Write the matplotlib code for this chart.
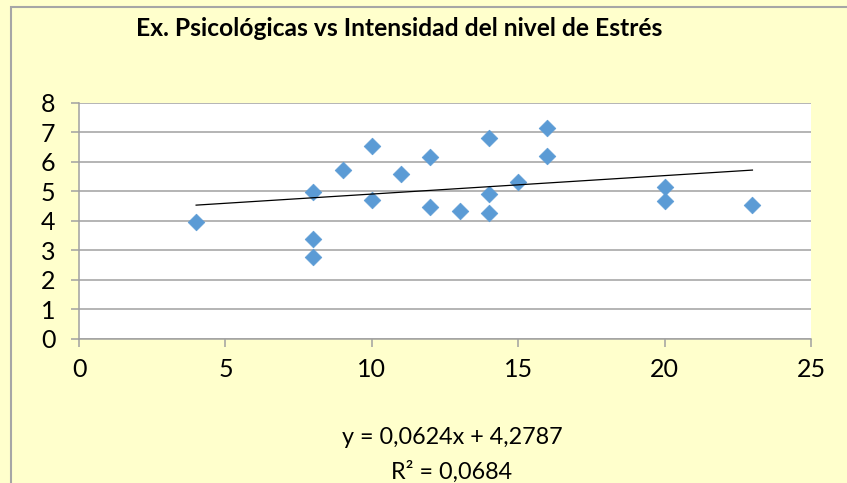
import matplotlib
matplotlib.use("Agg")
import matplotlib.pyplot as plt
from matplotlib.patches import Rectangle

# Data
x_vals = [4, 8, 8, 8, 9, 10, 10, 11, 12, 12, 13, 14, 14, 14, 15, 16, 16, 20, 20, 23]
y_vals = [3.97, 4.96, 3.37, 2.79, 5.72, 6.53, 4.70, 5.57, 6.14, 4.47, 4.32, 6.80,
          4.90, 4.27, 5.32, 7.13, 6.19, 5.13, 4.68, 4.52]
slope = 0.0624
intercept = 4.2787
r_squared = 0.0684
title = "Ex. Psicológicas vs Intensidad del nivel de Estrés"
x_ticks = [0, 5, 10, 15, 20, 25]
y_ticks = [0, 1, 2, 3, 4, 5, 6, 7, 8]

plt.rcParams['font.family'] = ['Lato', 'DejaVu Sans']

W, H = 847, 483
fig = plt.figure(figsize=(W / 100, H / 100), dpi=100)
fig.patch.set_facecolor('#FFFFCC')

# chart area border (cropped at right and bottom)
border = Rectangle((11 / W, -0.05), 1.2, 1 - 6.5 / H + 0.05, transform=fig.transFigure,
                   facecolor='none', edgecolor='#A6A6A6', linewidth=1.5, zorder=0)
fig.patches.append(border)

ax = fig.add_axes([79 / W, 1 - 339 / H, (811 - 79) / W, (339 - 102.5) / H])
ax.set_facecolor('white')
ax.set_xlim(0, 25)
ax.set_ylim(0, 8)
ax.set_xticks(x_ticks)
ax.set_yticks(y_ticks)
ax.yaxis.grid(True, color='#A0A0A0', linewidth=1.1)
ax.set_axisbelow(True)
for s in ['top', 'right']:
    ax.spines[s].set_visible(False)
for s in ['left', 'bottom']:
    ax.spines[s].set_color('#A0A0A0')
    ax.spines[s].set_linewidth(1.1)
ax.tick_params(axis='both', colors='#A0A0A0', labelcolor='black', length=6, width=1.1,
               labelsize=18)
ax.tick_params(axis='x', pad=8)
ax.tick_params(axis='y', pad=11)

ax.scatter(x_vals, y_vals, marker='D', s=72, color='#5B9BD5', edgecolors='#5B9BD5',
           linewidths=0.5, zorder=3, clip_on=False)

x0, x1 = min(x_vals), max(x_vals)
ax.plot([x0, x1], [slope * x0 + intercept, slope * x1 + intercept], color='black',
        linewidth=0.9, zorder=4)

fig.text(399 / W, 1 - 28 / H, title, ha='center', va='center', fontsize=17.7,
         fontweight='bold')

eq = "y = " + f"{slope:.4f}".replace('.', ',') + "x + " + f"{intercept:.4f}".replace('.', ',')
r2 = "R² = " + f"{r_squared:.4f}".replace('.', ',')
fig.text(452 / W, 1 - 438 / H, eq, ha='center', va='center', fontsize=16.8)
fig.text(452 / W, 1 - 472 / H, r2, ha='center', va='center', fontsize=16.8)

fig.savefig('out.png', dpi=100, facecolor=fig.get_facecolor())
